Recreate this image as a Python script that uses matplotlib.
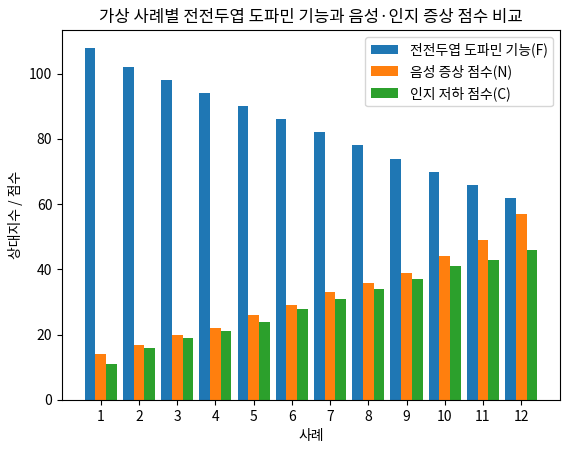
import matplotlib
matplotlib.use("Agg")
import matplotlib.pyplot as plt
import numpy as np

plt.rcParams['font.family'] = ['Noto Sans CJK KR', 'DejaVu Sans']

cases = [1,2,3,4,5,6,7,8,9,10,11,12]
f_vals = [108,102,98,94,90,86,82,78,74,70,66,62]
n_vals = [14,17,20,22,26,29,33,36,39,44,49,57]
c_vals = [11,16,19,21,24,28,31,34,37,41,43,46]

x = np.array(cases)
w = 0.28
fig, ax = plt.subplots(figsize=(5.69,4.54), dpi=100)
ax.bar(x-w, f_vals, w, label='전전두엽 도파민 기능(F)', color='#1f77b4')
ax.bar(x, n_vals, w, label='음성 증상 점수(N)', color='#ff7f0e')
ax.bar(x+w, c_vals, w, label='인지 저하 점수(C)', color='#2ca02c')
ax.set_xticks(x)
ax.set_xticklabels([str(c) for c in cases])
ax.set_xlabel('사례')
ax.set_ylabel('상대지수 / 점수')
ax.set_title('가상 사례별 전전두엽 도파민 기능과 음성·인지 증상 점수 비교')
ax.legend(loc='upper right')
fig.subplots_adjust(left=0.109, right=0.984, top=0.934, bottom=0.119)
fig.savefig('out.png')
